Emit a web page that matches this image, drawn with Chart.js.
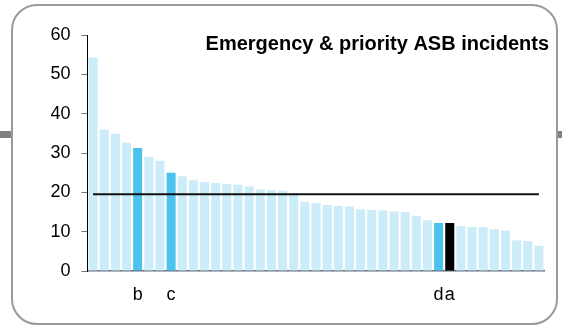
<!DOCTYPE html>
<html>
<head>
<meta charset="utf-8">
<script src="https://cdn.jsdelivr.net/npm/chart.js@4"></script>
<style>
  html, body { margin: 0; padding: 0; background: #fff; }
  #wrap { position: relative; width: 562px; height: 325px; overflow: hidden; }
  #band-l { position: absolute; left: 0; top: 131px; width: 12px; height: 7px; background: #808080; }
  #band-r { position: absolute; left: 557px; top: 131px; width: 5px; height: 7px; background: #808080; }
  #frame {
    position: absolute; left: 11px; top: 4px; width: 543px; height: 317px;
    border: 2px solid #9a9a9a; border-radius: 26px; background: #fff;
  }
  canvas { position: absolute; left: 0; top: 0; }
</style>
</head>
<body>
<div id="wrap">
  <div id="band-l"></div>
  <div id="band-r"></div>
  <div id="frame"></div>
  <canvas id="asbChart" width="562" height="325"></canvas>
</div>
<script>
// === Data ===
const labels = ["", "", "", "", "b", "", "", "c", "", "", "", "", "", "", "", "", "", "", "", "", "",
  "", "", "", "", "", "", "", "", "", "", "d", "a", "", "", "", "", "", "", "", ""];
const incidents = [54.3, 36.0, 34.9, 32.6, 31.3, 29.0, 28.0, 25.0, 24.1, 23.1, 22.6, 22.4, 22.1,
  21.9, 21.5, 20.7, 20.5, 20.4, 19.7, 17.6, 17.2, 16.8, 16.5, 16.4, 15.7, 15.5, 15.4, 15.1, 15.0,
  14.0, 12.9, 12.2, 12.2, 11.4, 11.2, 11.2, 10.6, 10.3, 7.8, 7.6, 6.4];
const average = 19.5;
const highlighted = ["b", "c", "d"];
const selected = ["a"];

const barColors = labels.map((l) =>
  selected.includes(l) ? "#000000" : highlighted.includes(l) ? "#4cc3ec" : "#cdecf9"
);

const ctx = document.getElementById("asbChart").getContext("2d");
window.asbChart = new Chart(ctx, {
  type: "bar",
  data: {
    labels: labels,
    datasets: [
      {
        type: "line",
        label: "Average",
        data: labels.map(() => average),
        borderColor: "#111",
        borderWidth: 2,
        pointRadius: 0,
        order: 0,
      },
      {
        label: "Incidents",
        data: incidents,
        backgroundColor: barColors,
        barPercentage: 0.81,
        categoryPercentage: 1,
        order: 1,
      },
    ],
  },
  plugins: [
    {
      id: "titleText",
      afterDraw(chart) {
        const c = chart.ctx;
        c.save();
        c.font = "bold 20px 'Liberation Sans', Arial, sans-serif";
        c.fillStyle = "#000";
        c.textAlign = "right";
        c.textBaseline = "middle";
        c.fillText("Emergency & priority ASB incidents", 549, 44);
        c.restore();
      },
    },
  ],
  options: {
    responsive: false,
    animation: false,
    layout: { padding: { left: 0, right: 17.5, top: 35, bottom: 14 } },
    plugins: { legend: { display: false }, tooltip: { enabled: false } },
    scales: {
      x: {
        afterFit: (s) => { s.height = 40; },
        grid: { display: false, drawTicks: false },
        border: { color: "#5f6b75", width: 1.5 },
        ticks: {
          autoSkip: false,
          maxRotation: 0,
          padding: 13,
          color: "#000",
          font: { family: "'Liberation Sans', Arial, sans-serif", size: 18 },
        },
      },
      y: {
        min: 0,
        max: 60,
        afterFit: (s) => { s.width = 87.5; },
        grid: { drawOnChartArea: false, tickLength: 6, tickColor: "#777" },
        border: { color: "#000", width: 1 },
        ticks: {
          stepSize: 10,
          padding: 11,
          color: "#000",
          font: { family: "'Liberation Sans', Arial, sans-serif", size: 18 },
        },
      },
    },
  },
});
</script>
</body>
</html>
